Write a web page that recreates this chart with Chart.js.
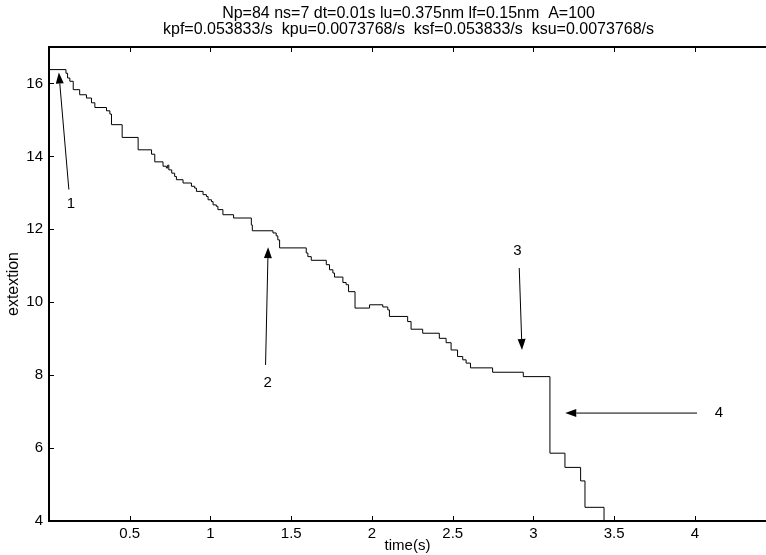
<!DOCTYPE html>
<html><head><meta charset="utf-8">
<script src="https://cdn.jsdelivr.net/npm/chart.js@4.4.0/dist/chart.umd.min.js"></script>
<style>html,body{margin:0;padding:0;background:#fff;}#wrap{width:766px;height:555px;position:relative;}</style>
</head><body><div id="wrap"><canvas id="c" width="766" height="555"></canvas></div>
<script>
// ---- data ----
const titleLines = ['Np=84 ns=7 dt=0.01s lu=0.375nm lf=0.15nm  A=100',
                    'kpf=0.053833/s  kpu=0.0073768/s  ksf=0.053833/s  ksu=0.0073768/s'];
const xTitle = 'time(s)';
const yTitle = 'extextion';
const xTicks = [0.5, 1, 1.5, 2, 2.5, 3, 3.5, 4];
const yTicks = [4, 6, 8, 10, 12, 14, 16];
// step change times (s) and the new extension value at each time
const stepTimes = [0.00, 0.105, 0.115, 0.129, 0.15, 0.19, 0.232, 0.263, 0.284, 0.356, 0.377, 0.387,
  0.453, 0.552, 0.635, 0.655, 0.706, 0.727, 0.735, 0.742, 0.76, 0.778, 0.789, 0.83, 0.882, 0.902,
  0.913, 0.954, 0.975, 0.985, 1.006, 1.016, 1.036, 1.046, 1.077, 1.143, 1.253, 1.259, 1.387, 1.407,
  1.417, 1.428, 1.593, 1.603, 1.624, 1.717, 1.737, 1.758, 1.768, 1.82, 1.84, 1.855, 1.895, 1.985,
  2.067, 2.098, 2.108, 2.221, 2.242, 2.314, 2.417, 2.459, 2.49, 2.53, 2.562, 2.583, 2.61, 2.747,
  2.937, 3.102, 3.195, 3.292, 3.319, 3.437, 4.6];
const stepValues = [16.38, 16.28, 16.15, 16.06, 15.83, 15.69, 15.60, 15.47, 15.34, 15.25, 15.16, 14.87,
  14.52, 14.18, 14.06, 13.85, 13.73, 13.68, 13.76, 13.63, 13.54, 13.45, 13.36, 13.27, 13.18, 13.13,
  13.04, 12.95, 12.90, 12.81, 12.76, 12.67, 12.63, 12.54, 12.40, 12.31, 12.12, 11.96, 11.90, 11.82,
  11.71, 11.49, 11.35, 11.25, 11.15, 11.03, 10.89, 10.80, 10.69, 10.54, 10.48, 10.29, 9.84, 9.93,
  9.87, 9.79, 9.61, 9.47, 9.26, 9.15, 9.01, 8.89, 8.69, 8.51, 8.42, 8.33, 8.20, 8.08,
  7.96, 5.86, 5.47, 5.10, 4.375, 4.0, 4.0];
// annotations: label text, label position, arrow tail and arrow head (data coords)
const annLabels = ['1', '2', '3', '4'];
const annLabelT = [0.135, 1.354, 2.90, 4.149];
const annLabelV = [12.70, 7.79, 11.41, 6.96];
const arrowTailT = [0.123, 1.341, 2.912, 4.013];
const arrowTailV = [13.09, 8.28, 10.94, 6.96];
const arrowHeadT = [0.061, 1.357, 2.929, 3.197];
const arrowHeadV = [16.30, 11.51, 8.69, 6.96];

const FONT = '"Liberation Sans", Arial, Helvetica, sans-serif';
const FS = 15;
const TITLE_FS = 16;

const points = stepTimes.map((t, i) => ({x: t, y: stepValues[i]}));

const framePlugin = {
  id: 'frame',
  afterDatasetsDraw(chart) {
    const {ctx, chartArea: a, scales: {x, y}} = chart;
    ctx.save();
    ctx.strokeStyle = '#000';
    ctx.lineWidth = 1;
    ctx.beginPath();
    xTicks.forEach(v => {
      const px = Math.round(x.getPixelForValue(v)) + 0.5;
      ctx.moveTo(px, a.bottom); ctx.lineTo(px, a.bottom - 5);
      ctx.moveTo(px, a.top); ctx.lineTo(px, a.top + 5);
    });
    yTicks.forEach(v => {
      const py = Math.round(y.getPixelForValue(v)) + 0.5;
      ctx.moveTo(a.left, py); ctx.lineTo(a.left + 5, py);
    });
    ctx.stroke();
    ctx.lineWidth = 2;
    ctx.beginPath();
    ctx.moveTo(a.left - 1, a.top); ctx.lineTo(a.right, a.top);
    ctx.stroke();

    // annotations
    ctx.fillStyle = '#000';
    ctx.lineWidth = 1;
    ctx.font = FS + 'px ' + FONT;
    ctx.textAlign = 'center';
    ctx.textBaseline = 'middle';
    annLabels.forEach((lab, i) => {
      ctx.fillText(lab, x.getPixelForValue(annLabelT[i]), y.getPixelForValue(annLabelV[i]));
      const x0 = x.getPixelForValue(arrowTailT[i]), y0 = y.getPixelForValue(arrowTailV[i]);
      const x1 = x.getPixelForValue(arrowHeadT[i]), y1 = y.getPixelForValue(arrowHeadV[i]);
      const ang = Math.atan2(y1 - y0, x1 - x0);
      const L = 11, W = 4;
      const bx = x1 - L * Math.cos(ang), by = y1 - L * Math.sin(ang);
      ctx.beginPath(); ctx.moveTo(x0, y0); ctx.lineTo(bx, by); ctx.stroke();
      ctx.beginPath();
      ctx.moveTo(x1, y1);
      ctx.lineTo(bx + W * Math.sin(ang), by - W * Math.cos(ang));
      ctx.lineTo(bx - W * Math.sin(ang), by + W * Math.cos(ang));
      ctx.closePath(); ctx.fill();
    });

    // title
    ctx.font = TITLE_FS + 'px ' + FONT;
    const cx = (a.left + a.right) / 2 + 1;
    ctx.fillText(titleLines[0], cx, 14);
    ctx.fillText(titleLines[1], cx, 30);
    ctx.restore();
  }
};

new Chart(document.getElementById('c'), {
  type: 'line',
  data: {datasets: [{data: points, stepped: true, borderColor: '#000', borderWidth: 1,
    pointRadius: 0, fill: false, tension: 0}]},
  options: {
    responsive: false, animation: false, devicePixelRatio: 1,
    layout: {padding: {top: 47, right: 0, left: 0, bottom: 0}},
    plugins: {legend: {display: false}, tooltip: {enabled: false}, title: {display: false}},
    scales: {
      x: {type: 'linear', min: 0, max: 4.44,
        grid: {display: false, drawTicks: false},
        border: {display: true, color: '#000', width: 2},
        afterBuildTicks: s => { s.ticks = xTicks.map(v => ({value: v})); },
        afterFit: s => { s.height = 34; },
        ticks: {color: '#000', font: {family: FONT, size: FS}, padding: 4, maxRotation: 0, autoSkip: false,
          callback: v => String(v)},
        title: {display: true, text: xTitle, color: '#000', font: {family: FONT, size: FS}, padding: {top: 0, bottom: 0}}
      },
      y: {type: 'linear', min: 4, max: 17,
        grid: {display: false, drawTicks: false},
        border: {display: true, color: '#000', width: 2},
        afterBuildTicks: s => { s.ticks = yTicks.map(v => ({value: v})); },
        afterFit: s => { s.width = 49; },
        ticks: {color: '#000', font: {family: FONT, size: FS}, padding: 6, autoSkip: false,
          callback: v => String(v)},
        title: {display: true, text: yTitle, color: '#000', font: {family: FONT, size: 16}, padding: {top: 4, bottom: 0}}
      }
    }
  },
  plugins: [framePlugin]
});
</script></body></html>
